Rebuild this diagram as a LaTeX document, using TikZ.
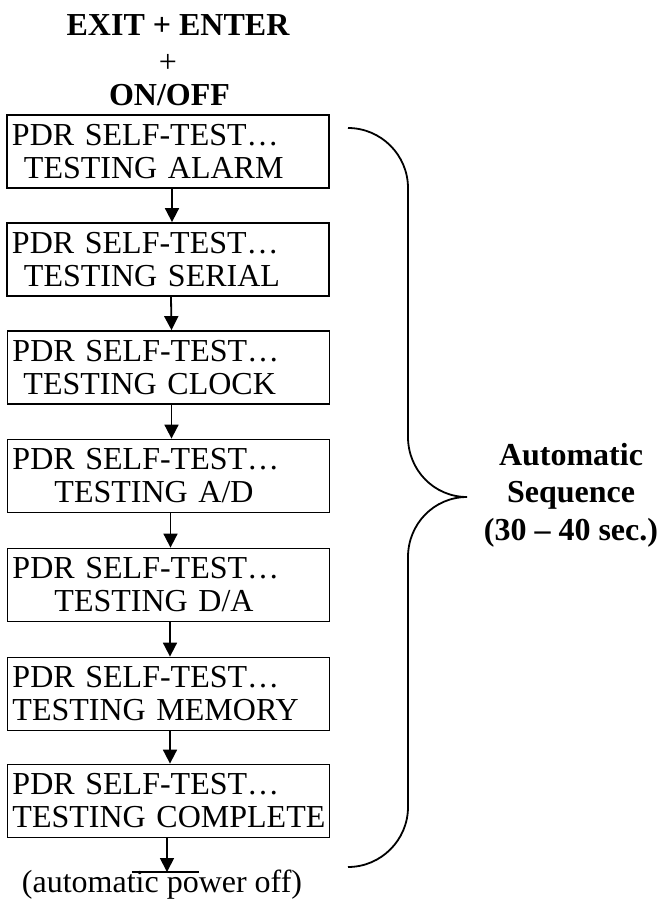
\documentclass[tikz,border=0pt]{standalone}
\usepackage{fontspec}
\setmainfont{Liberation Serif}
\usetikzlibrary{arrows.meta}
\hfuzz=30pt
\begin{document}
\begin{tikzpicture}[x=1pt,y=-1pt,
  every node/.style={font=\fontsize{32}{33}\selectfont},
  testbox/.style={draw,line width=1.8pt,rectangle,minimum width=322pt,minimum height=73pt,
    text width=312pt,inner xsep=5pt,inner ysep=0pt,align=left},
  flow/.style={line width=1.8pt,-{Triangle[width=14pt,length=14pt]}},
  hdr/.style={font=\fontsize{32}{33}\selectfont\bfseries,anchor=base,inner sep=0pt}]
\useasboundingbox (0,0) rectangle (661,907);

\node[hdr] (k1) at (178,36) {EXIT + ENTER};
\node[anchor=base,inner sep=0pt] (k2) at (168,73) {+};
\node[hdr] (k3) at (169.5,105) {ON/OFF};

\node[testbox] (b1) at (168,151.5) {PDR SELF-TEST…\\\hspace*{12pt}TESTING ALARM};
\node[testbox] (b2) at (168,259.5) {PDR SELF-TEST…\\\hspace*{12pt}TESTING SERIAL};
\node[testbox] (b3) at (168.5,367.5) {PDR SELF-TEST…\\\hspace*{11pt}TESTING CLOCK};
\node[testbox] (b4) at (168.5,476) {PDR SELF-TEST…\\\hspace*{42pt}TESTING A/D};
\node[testbox] (b5) at (168.5,585) {PDR SELF-TEST…\\\hspace*{42pt}TESTING D/A};
\node[testbox] (b6) at (168.5,694) {PDR SELF-TEST…\\TESTING MEMORY};
\node[testbox] (b7) at (168.5,801) {PDR SELF-TEST…\\\mbox{TESTING COMPLETE}};

\draw[flow] ([xshift=4pt]b1.south) -- ([xshift=4pt]b2.north);
\draw[flow] ([xshift=3pt]b2.south) -- ([xshift=3pt]b3.north);
\draw[flow] ([xshift=3pt]b3.south) -- ([xshift=3pt]b4.north);
\draw[flow] ([xshift=2pt]b4.south) -- ([xshift=2pt]b5.north);
\draw[flow] ([xshift=1.5pt]b5.south) -- ([xshift=1.5pt]b6.north);
\draw[flow] ([xshift=1.5pt]b6.south) -- ([xshift=1.5pt]b7.north);

\coordinate (offl) at (132,872);
\coordinate (offr) at (199,872);
\coordinate (offm) at (167,872);
\draw[flow] ([xshift=-1.5pt]b7.south) -- (offm);
\draw[line width=1.8pt] (offl) -- (offr);
\node[anchor=base,inner sep=0pt] (off) at (162,892) {(automatic power off)};

\draw[line width=1.8pt] (348,128) .. controls (381,128) and (408,155) .. (408,188)
  -- (408,437) .. controls (408,470) and (434,497) .. (467,497)
  .. controls (434,497) and (408,524) .. (408,557)
  -- (408,807) .. controls (408,840) and (381,867) .. (348,867);

\node[font=\fontsize{32}{37.5}\selectfont\bfseries,align=center,inner sep=0pt] (lbl) at (571,495)
  {Automatic\\Sequence\\(30 – 40 sec.)};
\end{tikzpicture}
\end{document}
